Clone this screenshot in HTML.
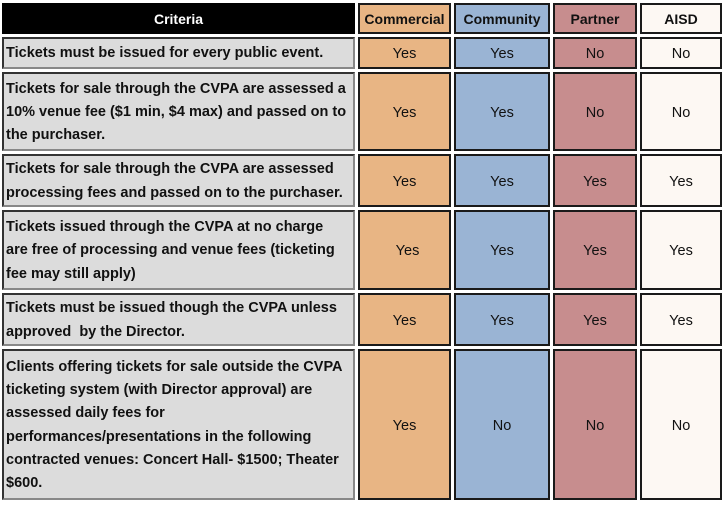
<!DOCTYPE html><html><head><style>
body{margin:0;width:726px;height:506px;background:#fff;font-family:"Liberation Sans",Arial,sans-serif;position:relative;overflow:hidden}
.c{position:absolute;box-sizing:border-box;border:2px solid #1a1a1a;display:flex;align-items:center;justify-content:center;font-size:14.5px;color:#111;padding-top:2px}
.k{justify-content:flex-start;background:#dcdcdc;border-color:#333 #888 #888 #333;font-weight:bold;padding-left:2px;padding-top:2px;line-height:23.3px;font-size:14.5px;white-space:nowrap}
.h{font-weight:bold;font-size:14px;padding-top:0}
.o{background:#e8b584}.b{background:#9ab4d4}.r{background:#c78d8e}.w{background:#fdf8f3}
</style></head><body>
<div class="c h" style="left:2px;top:3px;width:353px;height:31px;background:#000;color:#fff;border-color:#000">Criteria</div>
<div class="c h o" style="left:358px;top:3px;width:93px;height:31px">Commercial</div>
<div class="c h b" style="left:454px;top:3px;width:96px;height:31px">Community</div>
<div class="c h r" style="left:553px;top:3px;width:84px;height:31px">Partner</div>
<div class="c h w" style="left:640px;top:3px;width:82px;height:31px">AISD</div>

<div class="c k" style="left:2px;top:37px;width:353px;height:32px">Tickets must be issued for every public event.</div>
<div class="c o" style="left:358px;top:37px;width:93px;height:32px">Yes</div>
<div class="c b" style="left:454px;top:37px;width:96px;height:32px">Yes</div>
<div class="c r" style="left:553px;top:37px;width:84px;height:32px">No</div>
<div class="c w" style="left:640px;top:37px;width:82px;height:32px">No</div>

<div class="c k" style="left:2px;top:72px;width:353px;height:79px"><div>Tickets for sale through the CVPA are assessed a<br>10% venue fee ($1 min, $4 max) and passed on to<br>the purchaser.</div></div>
<div class="c o" style="left:358px;top:72px;width:93px;height:79px">Yes</div>
<div class="c b" style="left:454px;top:72px;width:96px;height:79px">Yes</div>
<div class="c r" style="left:553px;top:72px;width:84px;height:79px">No</div>
<div class="c w" style="left:640px;top:72px;width:82px;height:79px">No</div>

<div class="c k" style="left:2px;top:154px;width:353px;height:53px"><div>Tickets for sale through the CVPA are assessed<br>processing fees and passed on to the purchaser.</div></div>
<div class="c o" style="left:358px;top:154px;width:93px;height:53px">Yes</div>
<div class="c b" style="left:454px;top:154px;width:96px;height:53px">Yes</div>
<div class="c r" style="left:553px;top:154px;width:84px;height:53px">Yes</div>
<div class="c w" style="left:640px;top:154px;width:82px;height:53px">Yes</div>

<div class="c k" style="left:2px;top:210px;width:353px;height:80px"><div>Tickets issued through the CVPA at no charge<br>are free of processing and venue fees (ticketing<br>fee may still apply)</div></div>
<div class="c o" style="left:358px;top:210px;width:93px;height:80px;padding-left:6px">Yes</div>
<div class="c b" style="left:454px;top:210px;width:96px;height:80px">Yes</div>
<div class="c r" style="left:553px;top:210px;width:84px;height:80px">Yes</div>
<div class="c w" style="left:640px;top:210px;width:82px;height:80px">Yes</div>

<div class="c k" style="left:2px;top:293px;width:353px;height:53px"><div>Tickets must be issued though the CVPA unless<br>approved&nbsp; by the Director.</div></div>
<div class="c o" style="left:358px;top:293px;width:93px;height:53px">Yes</div>
<div class="c b" style="left:454px;top:293px;width:96px;height:53px">Yes</div>
<div class="c r" style="left:553px;top:293px;width:84px;height:53px">Yes</div>
<div class="c w" style="left:640px;top:293px;width:82px;height:53px">Yes</div>

<div class="c k" style="left:2px;top:349px;width:353px;height:151px"><div>Clients offering tickets for sale outside the CVPA<br>ticketing system (with Director approval) are<br>assessed daily fees for<br>performances/presentations in the following<br>contracted venues: Concert Hall- $1500; Theater<br>$600.</div></div>
<div class="c o" style="left:358px;top:349px;width:93px;height:151px">Yes</div>
<div class="c b" style="left:454px;top:349px;width:96px;height:151px">No</div>
<div class="c r" style="left:553px;top:349px;width:84px;height:151px">No</div>
<div class="c w" style="left:640px;top:349px;width:82px;height:151px">No</div>
</body></html>
